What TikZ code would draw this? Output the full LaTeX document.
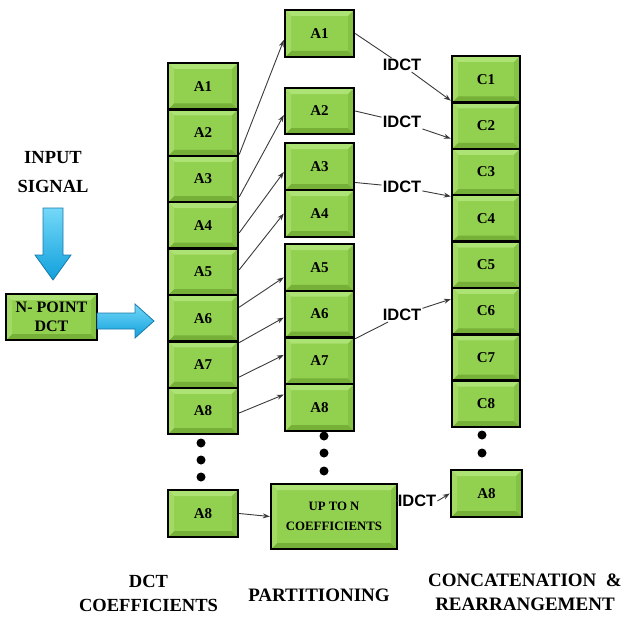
\documentclass[tikz,border=0pt]{standalone}
\usepackage{fontspec}
\setmainfont{Liberation Serif}
\setsansfont{Liberation Sans}
\usetikzlibrary{arrows.meta,calc}
\definecolor{gmid}{HTML}{92D050}
\definecolor{glight}{HTML}{ADE274}
\definecolor{gdark}{HTML}{76B038}
\definecolor{gleft}{HTML}{A2DA64}
\definecolor{gright}{HTML}{84C244}
\definecolor{cyanA}{HTML}{74D8F8}
\definecolor{cyanB}{HTML}{10A0DC}
\definecolor{cyanE}{HTML}{1A7AAA}
\definecolor{lnk}{HTML}{3A3A3A}
\tikzset{
  box/.style={draw=black, line width=2.4pt, fill=gmid, inner sep=0pt, align=center,
    font=\fontsize{15}{17}\selectfont\bfseries,
    path picture={
      \coordinate (pNW) at (path picture bounding box.north west);
      \coordinate (pNE) at (path picture bounding box.north east);
      \coordinate (pSW) at (path picture bounding box.south west);
      \coordinate (pSE) at (path picture bounding box.south east);
      \fill[glight] (pNW) -- (pNE) -- ([shift={(-6pt,-6pt)}]pNE) -- ([shift={(6pt,-6pt)}]pNW) -- cycle;
      \fill[gdark] (pSW) -- (pSE) -- ([shift={(-6pt,6pt)}]pSE) -- ([shift={(6pt,6pt)}]pSW) -- cycle;
      \fill[gleft] (pNW) -- (pSW) -- ([shift={(6pt,6pt)}]pSW) -- ([shift={(6pt,-6pt)}]pNW) -- cycle;
      \fill[gright] (pNE) -- (pSE) -- ([shift={(-6pt,6pt)}]pSE) -- ([shift={(-6pt,-6pt)}]pNE) -- cycle;
    }},
  c1/.style={box, minimum width=70pt, minimum height=46.4pt},
  c2/.style={box, minimum width=69pt, minimum height=46.8pt},
  c3/.style={box, minimum width=68pt, minimum height=46.4pt},
  dot/.style={circle, fill=black, inner sep=0pt, minimum size=9pt},
  lnkarr/.style={draw=lnk, line width=0.9pt, -{Stealth[length=7pt,width=5pt]}},
  lnkline/.style={draw=lnk, line width=0.9pt},
  idct/.style={inner sep=1pt, font=\sffamily\bfseries\fontsize{16.5}{18}\selectfont},
  lab/.style={align=center, font=\bfseries},
  blockarr/.style={draw=cyanE, line width=0.8pt, top color=cyanA, bottom color=cyanB},
}
\begin{document}
\begin{tikzpicture}[x=1pt,y=-1pt]
\useasboundingbox (0,0) rectangle (624,618);
% input
\node[lab, font=\bfseries\fontsize{18.5}{29}\selectfont] (insig) at (53,172) {INPUT\\SIGNAL};
\node[box, minimum width=91pt, minimum height=46pt, font=\bfseries\fontsize{16}{19}\selectfont] (npt) at (51.5,317) {N- POINT\\DCT};
% column 1
\foreach \i/\y in {1/86.2,2/132.6,3/179,4/225.4,5/271.8,6/318.2,7/364.6,8/411}
  \node[c1] (a\i) at (203,\y) {A\i};
\node[c1, minimum height=47pt] (a8b) at (203,513.5) {A8};
% column 2
\node[c2, minimum height=47pt] (b1) at (319.5,33.5) {A1};
\node[c2, minimum height=46pt] (b2) at (319.5,111) {A2};
\node[c2, minimum height=47pt] (b3) at (319.5,166.5) {A3};
\node[c2, minimum height=47pt] (b4) at (319.5,213.5) {A4};
\foreach \i/\y in {5/267.4,6/314.1,7/360.9,8/407.6}
  \node[c2] (b\i) at (319.5,\y) {A\i};
\node[box, minimum width=126pt, minimum height=65pt, font=\bfseries\fontsize{12.8}{20}\selectfont] (upto) at (334,516.5) {UP TO N\\COEFFICIENTS};
% column 3
\foreach \i/\y in {1/79.2,2/125.6,3/172,4/218.3,5/264.7,6/311.1,7/357.5,8/403.8}
  \node[c3] (c\i) at (486,\y) {C\i};
\node[box, minimum width=71pt, minimum height=47pt] (c8b) at (486.5,493.5) {A8};
% dots
\node[dot] (d11) at (201,443) {};
\node[dot] (d12) at (201,460) {};
\node[dot] (d13) at (201,477) {};
\node[dot] (d21) at (324,436) {};
\node[dot] (d22) at (324,453) {};
\node[dot] (d23) at (324,471) {};
\node[dot] (d31) at (482,435) {};
\node[dot] (d32) at (482,453) {};
% cyan block arrows
\draw[blockarr] (43,208) -- (63,208) -- (63,255) -- (71,255) -- (53,280) -- (35,255) -- (43,255) -- cycle;
\draw[blockarr] (97,313) -- (135,313) -- (135,304) -- (154,321) -- (135,338) -- (135,329) -- (97,329) -- cycle;
% partition arrows
\draw[lnkarr] (a3.north east) -- ([yshift=-6.5pt]b1.west);
\draw[lnkarr] ([yshift=-18pt]a3.east) -- ([yshift=-4pt]b2.west);
\draw[lnkarr] ([yshift=-7.5pt]a4.east) -- ([yshift=-5.5pt]b3.west);
\draw[lnkarr] ([yshift=2pt]a5.east) -- (b4.west);
\draw[lnkarr] ([yshift=11pt]a6.east) -- ([yshift=-10pt]b5.west);
\draw[lnkarr] (a6.south east) -- ([yshift=-3.5pt]b6.west);
\draw[lnkarr] ([yshift=-12.5pt]a7.east) -- ([yshift=6pt]b7.west);
\draw[lnkarr] ([yshift=-2pt]a8.east) -- ([yshift=13pt]b8.west);
\draw[lnkarr] (a8b.east) -- (upto.west);
% IDCT
\node[idct] (i1) at (402,65) {IDCT};
\node[idct] (i2) at (402,122) {IDCT};
\node[idct] (i3) at (402,187) {IDCT};
\node[idct] (i4) at (402,315) {IDCT};
\node[idct] (i5) at (417,501) {IDCT};
\draw[lnkline] (b1.east) -- (i1);
\draw[lnkarr] (i1) -- ([yshift=3pt]c1.south west);
\draw[lnkline] (b2.east) -- (i2);
\draw[lnkarr] (i2) -- ([yshift=-13pt]c2.west);
\draw[lnkline] ([yshift=-16pt]b3.east) -- (i3);
\draw[lnkarr] (i3) -- (c3.south west);
\draw[lnkline] (b6.south east) -- (i4);
\draw[lnkarr] (i4) -- ([yshift=12pt]c6.west);
\draw[lnkline] ([yshift=16pt]upto.east) -- (i5.west);
\draw[lnkarr] (i5.east) -- (c8b.west);
% bottom labels
\node[lab, font=\bfseries\fontsize{18.5}{24}\selectfont] (l1) at (148.5,593) {DCT\\COEFFICIENTS};
\node[lab, font=\bfseries\fontsize{19}{24}\selectfont] (l2) at (319,595) {PARTITIONING};
\node[lab, font=\bfseries\fontsize{19}{24}\selectfont] (l3) at (525,592) {CONCATENATION \ \&\\REARRANGEMENT};
\end{tikzpicture}
\end{document}
